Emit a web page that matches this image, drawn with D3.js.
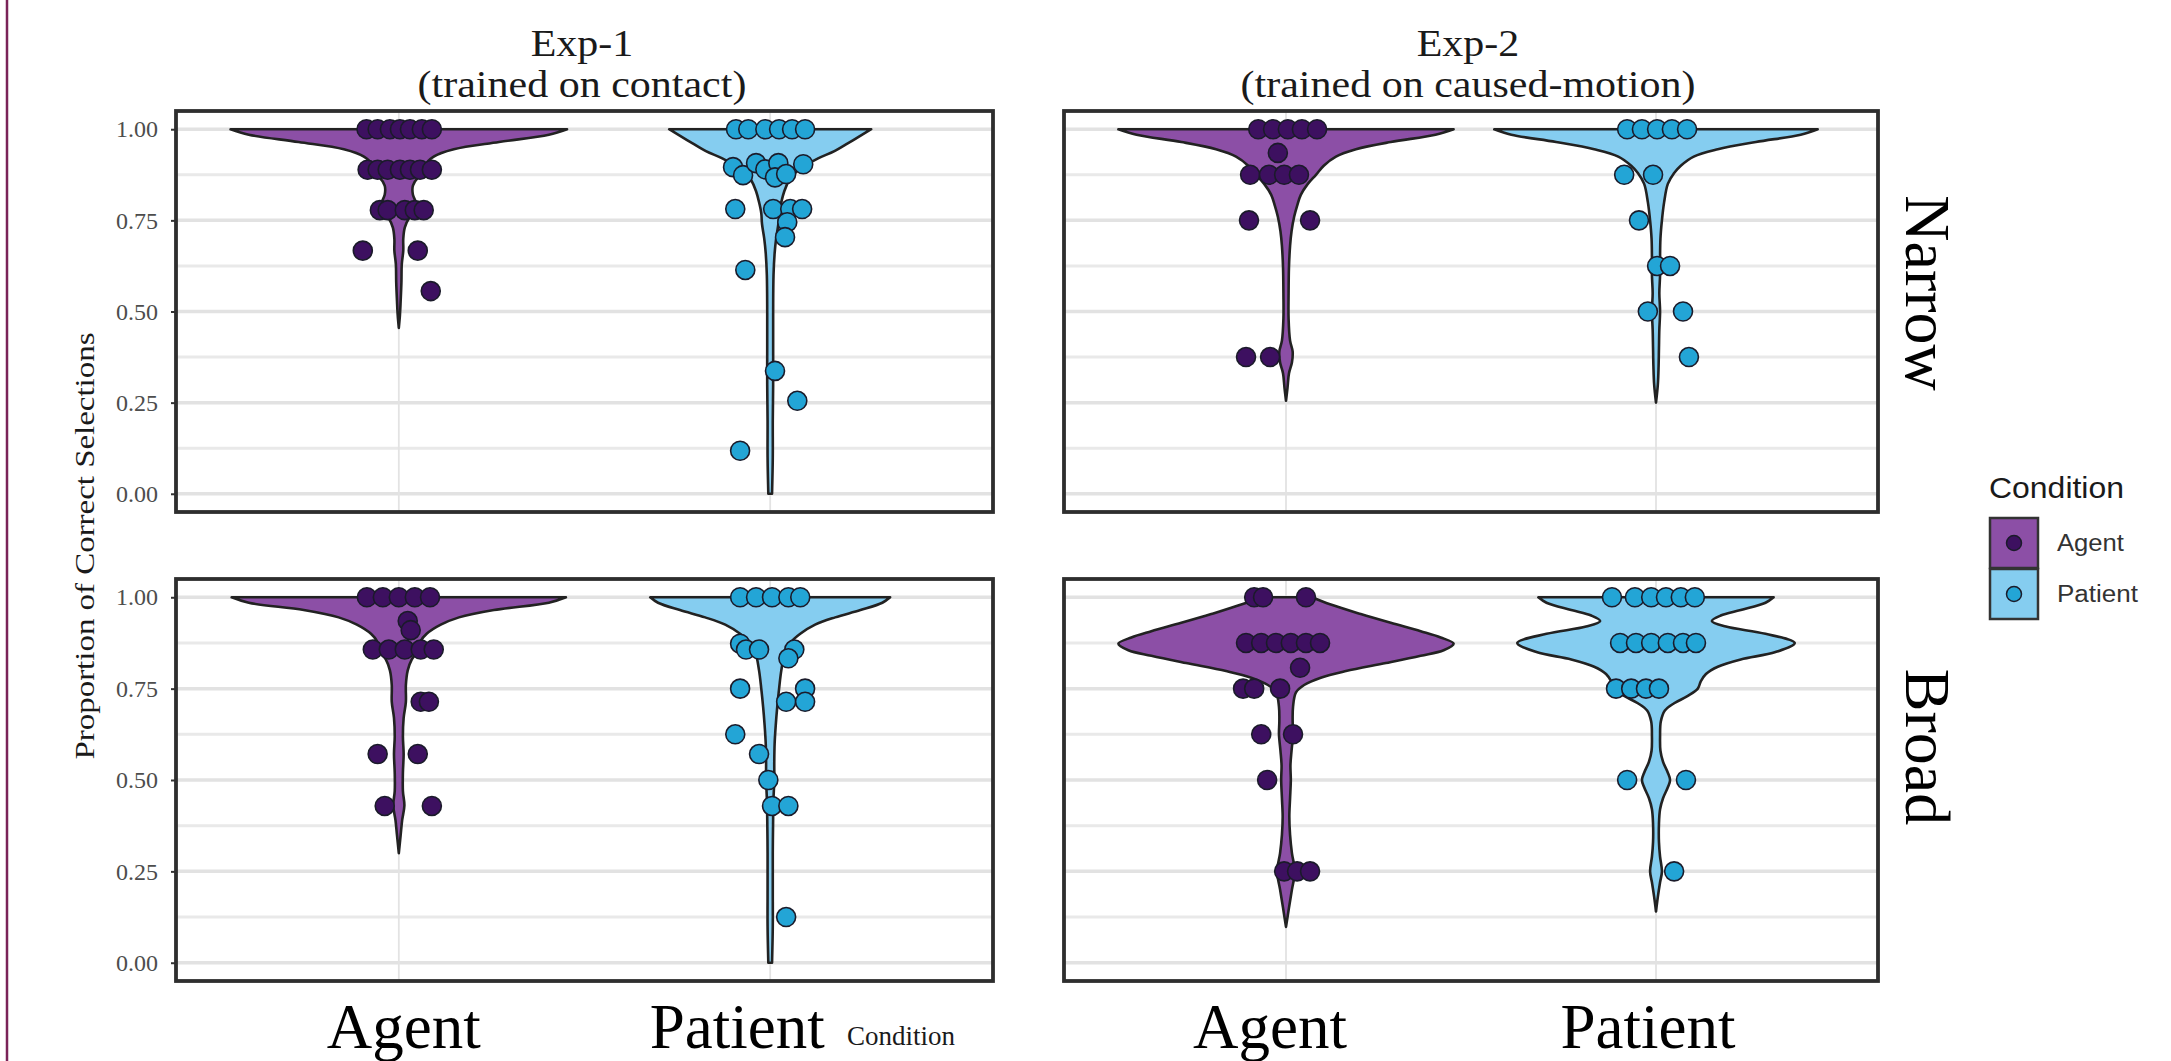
<!DOCTYPE html>
<html><head><meta charset="utf-8">
<script src="https://cdn.jsdelivr.net/npm/d3@7"></script>
<style>html,body{margin:0;padding:0;background:#fff;} svg{display:block;}</style>
</head><body>
<svg id="chart" width="2171" height="1061"></svg>
<script>
// ---------- data ----------
const experiments = ["Exp-1", "Exp-2"];
const expSubtitles = ["(trained on contact)", "(trained on caused-motion)"];
const scopes = ["Narrow", "Broad"];
const conditions = ["Agent", "Patient"];
const yTicks = [0, 0.25, 0.5, 0.75, 1];
const yMinorTicks = [0.125, 0.375, 0.625, 0.875];
const yTickLabels = ["0.00", "0.25", "0.50", "0.75", "1.00"];
const yTitle = "Proportion of Correct Selections";
const xTitle = "Condition";
const legendTitle = "Condition";

// participant points: [horizontal jitter (category units), proportion correct]
const exp1NarrowAgentPts = [[-0.087,1],[-0.057,1],[-0.024,1],[0.003,1],[0.030,1],[0.062,1],[0.089,1],
  [-0.084,0.889],[-0.057,0.889],[-0.030,0.889],[0.003,0.889],[0.030,0.889],[0.057,0.889],[0.089,0.889],
  [-0.051,0.778],[-0.030,0.778],[0.016,0.778],[0.043,0.778],[0.067,0.778],
  [-0.097,0.667],[0.051,0.667],[0.086,0.556]];
const exp1NarrowPatientPts = [[-0.092,1],[-0.059,1],[-0.013,1],[0.024,1],[0.059,1],[0.094,1],
  [-0.100,0.896],[-0.073,0.874],[-0.038,0.907],[-0.013,0.890],[0.022,0.907],[0.013,0.868],[0.043,0.877],[0.089,0.904],
  [-0.094,0.781],[0.008,0.781],[0.054,0.781],[0.086,0.781],[0.046,0.745],[0.040,0.704],
  [-0.067,0.614],[0.013,0.337],[0.073,0.255],[-0.081,0.118]];
const exp2NarrowAgentPts = [[-0.075,1],[-0.035,1],[0.005,1],[0.043,1],[0.084,1],[-0.022,0.935],
  [-0.097,0.875],[-0.046,0.875],[-0.005,0.875],[0.035,0.875],[-0.100,0.75],[0.065,0.75],
  [-0.108,0.375],[-0.043,0.375]];
const exp2NarrowPatientPts = [[-0.078,1],[-0.038,1],[0.003,1],[0.043,1],[0.084,1],
  [-0.086,0.875],[-0.008,0.875],[-0.046,0.75],[0.003,0.625],[0.038,0.625],
  [-0.022,0.5],[0.073,0.5],[0.089,0.375]];
const exp1BroadAgentPts = [[-0.086,1],[-0.043,1],[0,1],[0.043,1],[0.084,1],[0.024,0.935],[0.032,0.91],
  [-0.070,0.857],[-0.027,0.857],[0.016,0.857],[0.059,0.857],[0.094,0.857],[0.059,0.714],[0.081,0.714],
  [-0.057,0.571],[0.051,0.571],[-0.038,0.429],[0.089,0.429]];
const exp1BroadPatientPts = [[-0.081,1],[-0.038,1],[0.005,1],[0.049,1],[0.081,1],
  [-0.081,0.873],[-0.065,0.857],[-0.030,0.857],[0.065,0.857],[0.049,0.833],
  [-0.081,0.75],[0.094,0.75],[0.043,0.714],[0.094,0.714],[-0.094,0.625],[-0.030,0.571],
  [-0.005,0.5],[0.005,0.429],[0.049,0.429],[0.043,0.125]];
const exp2BroadAgentPts = [[-0.086,1],[-0.062,1],[0.054,1],
  [-0.108,0.875],[-0.067,0.875],[-0.027,0.875],[0.013,0.875],[0.054,0.875],[0.092,0.875],[0.038,0.807],
  [-0.116,0.75],[-0.086,0.75],[-0.016,0.75],[-0.067,0.625],[0.019,0.625],[-0.051,0.5],
  [-0.005,0.25],[0.030,0.25],[0.065,0.25]];
const exp2BroadPatientPts = [[-0.119,1],[-0.057,1],[-0.013,1],[0.027,1],[0.067,1],[0.105,1],
  [-0.097,0.875],[-0.054,0.875],[-0.013,0.875],[0.032,0.875],[0.073,0.875],[0.108,0.875],
  [-0.108,0.75],[-0.067,0.75],[-0.027,0.75],[0.008,0.75],[-0.078,0.5],[0.081,0.5],[0.049,0.25]];

// violin outlines: [proportion, half width (category units)]
const exp1NarrowAgentViolin = [[1,0.453],[0.985,0.404],[0.965,0.270],[0.945,0.148],[0.925,0.094],[0.905,0.075],
  [0.889,0.081],[0.87,0.054],[0.845,0.038],[0.82,0.038],[0.80,0.046],[0.778,0.049],[0.755,0.027],[0.73,0.016],
  [0.70,0.012],[0.667,0.012],[0.63,0.008],[0.58,0.007],[0.53,0.005],[0.49,0.003],[0.455,0]];
const exp1NarrowPatientViolin = [[1,0.272],[0.985,0.248],[0.962,0.210],[0.94,0.173],[0.92,0.129],[0.90,0.094],
  [0.88,0.067],[0.86,0.051],[0.83,0.038],[0.80,0.030],[0.77,0.024],[0.74,0.022],[0.70,0.016],[0.66,0.012],
  [0.60,0.009],[0.50,0.008],[0.40,0.008],[0.30,0.008],[0.20,0.007],[0.10,0.007],[0,0.005]];
const exp2NarrowAgentViolin = [[1,0.453],[0.985,0.404],[0.965,0.283],[0.945,0.189],[0.925,0.135],[0.90,0.102],
  [0.875,0.081],[0.85,0.059],[0.82,0.040],[0.79,0.030],[0.76,0.022],[0.72,0.015],[0.68,0.011],[0.62,0.008],
  [0.55,0.007],[0.48,0.007],[0.42,0.011],[0.39,0.018],[0.36,0.016],[0.33,0.008],[0.29,0.004],[0.255,0]];
const exp2NarrowPatientViolin = [[1,0.437],[0.985,0.391],[0.965,0.270],[0.945,0.167],[0.925,0.102],[0.90,0.067],
  [0.88,0.049],[0.85,0.032],[0.80,0.022],[0.75,0.016],[0.70,0.012],[0.65,0.011],[0.60,0.011],[0.55,0.009],
  [0.50,0.011],[0.45,0.009],[0.40,0.008],[0.35,0.007],[0.30,0.005],[0.25,0]];
const exp1BroadAgentViolin = [[1,0.450],[0.985,0.404],[0.965,0.256],[0.945,0.162],[0.925,0.113],[0.90,0.075],
  [0.88,0.059],[0.857,0.054],[0.83,0.035],[0.80,0.024],[0.76,0.019],[0.714,0.019],[0.67,0.013],[0.62,0.011],
  [0.571,0.013],[0.52,0.011],[0.47,0.011],[0.43,0.015],[0.39,0.009],[0.35,0.005],[0.30,0]];
const exp1BroadPatientViolin = [[1,0.323],[0.985,0.302],[0.965,0.243],[0.945,0.175],[0.925,0.121],[0.90,0.081],
  [0.875,0.054],[0.85,0.040],[0.80,0.030],[0.75,0.024],[0.70,0.019],[0.65,0.015],[0.60,0.012],[0.55,0.011],
  [0.50,0.011],[0.45,0.009],[0.40,0.008],[0.30,0.007],[0.20,0.007],[0.10,0.007],[0,0.005]];
const exp2BroadAgentViolin = [[1,0.070],[0.98,0.121],[0.954,0.202],[0.93,0.283],[0.907,0.364],[0.89,0.418],
  [0.873,0.453],[0.855,0.426],[0.84,0.364],[0.82,0.270],[0.798,0.162],[0.78,0.094],[0.76,0.049],[0.74,0.027],
  [0.70,0.019],[0.66,0.018],[0.625,0.019],[0.58,0.015],[0.54,0.012],[0.50,0.013],[0.45,0.011],[0.40,0.009],
  [0.35,0.011],[0.30,0.016],[0.25,0.024],[0.20,0.016],[0.15,0.008],[0.098,0]];
const exp2BroadPatientViolin = [[1,0.318],[0.985,0.296],[0.965,0.229],[0.95,0.175],[0.935,0.151],[0.92,0.189],
  [0.90,0.296],[0.875,0.375],[0.85,0.323],[0.83,0.229],[0.81,0.167],[0.79,0.135],[0.77,0.121],[0.75,0.113],
  [0.73,0.086],[0.71,0.049],[0.69,0.024],[0.66,0.013],[0.62,0.011],[0.58,0.012],[0.55,0.019],[0.52,0.032],
  [0.50,0.038],[0.48,0.032],[0.45,0.019],[0.42,0.011],[0.38,0.008],[0.33,0.008],[0.29,0.011],[0.25,0.016],
  [0.22,0.011],[0.18,0.005],[0.14,0]];

// panel table built from the arrays above: [row][col][condition]
const panelPts = [
  [[exp1NarrowAgentPts, exp1NarrowPatientPts], [exp2NarrowAgentPts, exp2NarrowPatientPts]],
  [[exp1BroadAgentPts, exp1BroadPatientPts], [exp2BroadAgentPts, exp2BroadPatientPts]]];
const panelViolins = [
  [[exp1NarrowAgentViolin, exp1NarrowPatientViolin], [exp2NarrowAgentViolin, exp2NarrowPatientViolin]],
  [[exp1BroadAgentViolin, exp1BroadPatientViolin], [exp2BroadAgentViolin, exp2BroadPatientViolin]]];

// ---------- layout & style ----------
const colX = [[176, 993], [1064, 1878]];
const rowY = [[111, 512], [579, 981]];
const violinFill = {Agent: "#8c4fa6", Patient: "#85cdf0"};
const pointFill = {Agent: "#3d1060", Patient: "#23a5d6"};
const serif = "'Liberation Serif','Times New Roman',serif";
const sans = "'Liberation Sans',Arial,sans-serif";

const svg = d3.select("#chart");
svg.append("rect").attr("width", 2171).attr("height", 1061).attr("fill", "#fff");
svg.append("line").attr("x1", 7).attr("x2", 7).attr("y1", 0).attr("y2", 1061)
  .attr("stroke", "#7a2358").attr("stroke-width", 2.5);

scopes.forEach((scope, r) => {
  experiments.forEach((exp, c) => {
    const [x0, x1] = colX[c], [y0, y1] = rowY[r];
    const x = d3.scaleLinear().domain([0.4, 2.6]).range([x0, x1]);
    const y = d3.scaleLinear().domain([-0.05, 1.05]).range([y1, y0]);
    const g = svg.append("g");
    g.append("rect").attr("x", x0).attr("y", y0).attr("width", x1 - x0).attr("height", y1 - y0).attr("fill", "#fff");
    g.selectAll(".minor").data(yMinorTicks).join("line")
      .attr("x1", x0).attr("x2", x1).attr("y1", d => y(d)).attr("y2", d => y(d))
      .attr("stroke", "#e9e9e9").attr("stroke-width", 3);
    g.selectAll(".major").data(yTicks).join("line")
      .attr("x1", x0).attr("x2", x1).attr("y1", d => y(d)).attr("y2", d => y(d))
      .attr("stroke", "#e2e2e2").attr("stroke-width", 3.5);
    g.selectAll(".vgrid").data(conditions).join("line")
      .attr("x1", (d, i) => x(i + 1)).attr("x2", (d, i) => x(i + 1)).attr("y1", y0).attr("y2", y1)
      .attr("stroke", "#e3e3e3").attr("stroke-width", 1.8);

    conditions.forEach((cond, k) => {
      const cx = k + 1;
      const area = d3.area()
        .y(d => y(d[0]))
        .x0(d => x(cx - d[1]))
        .x1(d => x(cx + d[1]))
        .curve(d3.curveCatmullRom.alpha(0.5));
      g.append("path").datum(panelViolins[r][c][k]).attr("d", area)
        .attr("fill", violinFill[cond]).attr("stroke", "#222").attr("stroke-width", 2.6)
        .attr("stroke-linejoin", "round");
    });
    conditions.forEach((cond, k) => {
      const cx = k + 1;
      g.selectAll(null).data(panelPts[r][c][k]).join("circle")
        .attr("cx", d => x(cx + d[0])).attr("cy", d => y(d[1])).attr("r", 9.5)
        .attr("fill", pointFill[cond]).attr("stroke", "#1b1b2a").attr("stroke-width", 1.6);
    });

    if (c === 0) {
      const ax = g.append("g").attr("transform", `translate(${x0},0)`)
        .call(d3.axisLeft(y).tickValues(yTicks).tickFormat((d, i) => yTickLabels[i]).tickSize(5).tickPadding(13));
      ax.select(".domain").remove();
      ax.selectAll(".tick line").attr("stroke", "#333").attr("stroke-width", 2);
      ax.selectAll(".tick text").attr("font-family", serif).attr("font-size", 24).attr("fill", "#4d4d4d");
    }
    g.append("rect").attr("x", x0).attr("y", y0).attr("width", x1 - x0).attr("height", y1 - y0)
      .attr("fill", "none").attr("stroke", "#2e2e2e").attr("stroke-width", 3.8);

    // x category labels (bottom row)
    if (r === 1) {
      const nudge = c === 0 ? [5, -33] : [-16, -8];
      conditions.forEach((cond, k) => {
        svg.append("text").attr("x", x(k + 1) + nudge[k]).attr("y", 1048)
          .attr("text-anchor", "middle").attr("font-family", serif).attr("font-size", 63)
          .attr("fill", "#000").text(cond);
      });
    }
  });
});

// column strip titles: glyphs drawn at 37px, stretched to the width of a 42px setting
const titleX = [582, 1468];
function stripText(str, cx, baseline) {
  const t = svg.append("text").attr("x", cx).attr("y", baseline).attr("text-anchor", "middle")
    .attr("font-family", serif).attr("font-size", 42).attr("fill", "#1a1a1a").text(str);
  const len = t.node().getComputedTextLength();
  t.attr("font-size", 37).attr("textLength", len).attr("lengthAdjust", "spacingAndGlyphs");
}
experiments.forEach((exp, c) => {
  stripText(exp, titleX[c], 56);
  stripText(expSubtitles[c], titleX[c], 97);
});

// row strip labels
const rowLabelY = [293, 747];
scopes.forEach((s, r) => {
  svg.append("text").attr("transform", `translate(1906,${rowLabelY[r]}) rotate(90)`)
    .attr("text-anchor", "middle").attr("font-family", serif).attr("font-size", 64)
    .attr("fill", "#000").text(s);
});

// axis titles
svg.append("text").attr("transform", "translate(94,546) rotate(-90)").attr("text-anchor", "middle")
  .attr("font-family", serif).attr("font-size", 27).attr("fill", "#1a1a1a")
  .attr("textLength", 427).attr("lengthAdjust", "spacingAndGlyphs").text(yTitle);
svg.append("text").attr("x", 901).attr("y", 1045).attr("text-anchor", "middle")
  .attr("font-family", serif).attr("font-size", 27).attr("fill", "#1a1a1a").text(xTitle);

// legend
const lg = svg.append("g");
lg.append("text").attr("x", 1989).attr("y", 498).attr("font-family", sans).attr("font-size", 29)
  .attr("fill", "#1a1a1a").attr("textLength", 135).attr("lengthAdjust", "spacingAndGlyphs").text(legendTitle);
const legendLabelLen = {Agent: 67, Patient: 81};
conditions.forEach((cond, k) => {
  const ky = 518 + k * 51;
  lg.append("rect").attr("x", 1990).attr("y", ky).attr("width", 48).attr("height", 50)
    .attr("fill", violinFill[cond]).attr("stroke", "#333").attr("stroke-width", 2.5);
  lg.append("circle").attr("cx", 2014).attr("cy", ky + 25).attr("r", 7.5)
    .attr("fill", pointFill[cond]).attr("stroke", "#1b1b2a").attr("stroke-width", 1.5);
  lg.append("text").attr("x", 2057).attr("y", ky + 33).attr("font-family", sans).attr("font-size", 23)
    .attr("fill", "#333").attr("textLength", legendLabelLen[cond]).attr("lengthAdjust", "spacingAndGlyphs").text(cond);
});
</script>
</body></html>
